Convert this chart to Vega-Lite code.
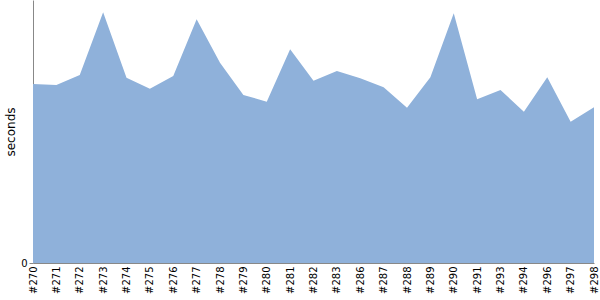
{
  "$schema": "https://vega.github.io/schema/vega-lite/v6.json",
  "autosize": "none",
  "width": 561,
  "height": 263,
  "padding": {"left": 33, "top": 0, "right": 6, "bottom": 37},
  "config": {"view": {"stroke": null}, "font": "DejaVu Sans"},
  "data": {"values": [
    {"build": "#270", "seconds": 179},
    {"build": "#271", "seconds": 178},
    {"build": "#272", "seconds": 188},
    {"build": "#273", "seconds": 250.7},
    {"build": "#274", "seconds": 185.3},
    {"build": "#275", "seconds": 174.3},
    {"build": "#276", "seconds": 187},
    {"build": "#277", "seconds": 243.7},
    {"build": "#278", "seconds": 200.3},
    {"build": "#279", "seconds": 168},
    {"build": "#280", "seconds": 161.3},
    {"build": "#281", "seconds": 213.7},
    {"build": "#282", "seconds": 182.3},
    {"build": "#283", "seconds": 192},
    {"build": "#286", "seconds": 184.7},
    {"build": "#287", "seconds": 175.7},
    {"build": "#288", "seconds": 155.3},
    {"build": "#289", "seconds": 185.7},
    {"build": "#290", "seconds": 249.7},
    {"build": "#291", "seconds": 163.7},
    {"build": "#293", "seconds": 173},
    {"build": "#294", "seconds": 151.3},
    {"build": "#296", "seconds": 185.7},
    {"build": "#297", "seconds": 141.3},
    {"build": "#298", "seconds": 155.7}
  ]},
  "mark": {"type": "area", "color": "#8fb1da", "opacity": 1},
  "encoding": {
    "x": {
      "field": "build", "type": "ordinal", "sort": null,
      "scale": {"padding": 0},
      "axis": {
        "title": null, "labelAngle": -90, "ticks": false, "labelPadding": 3,
        "labelFontSize": 10, "labelColor": "#000", "domainColor": "#888", "grid": false
      }
    },
    "y": {
      "field": "seconds", "type": "quantitative",
      "scale": {"domain": [0, 263], "nice": false},
      "axis": {
        "title": "seconds", "values": [0], "grid": false,
        "titleFontSize": 12, "titleFontWeight": "normal", "titleColor": "#000",
        "titlePadding": 3, "labelFontSize": 10, "labelColor": "#000",
        "domainColor": "#888", "tickColor": "#888", "tickSize": 4
      }
    }
  }
}
